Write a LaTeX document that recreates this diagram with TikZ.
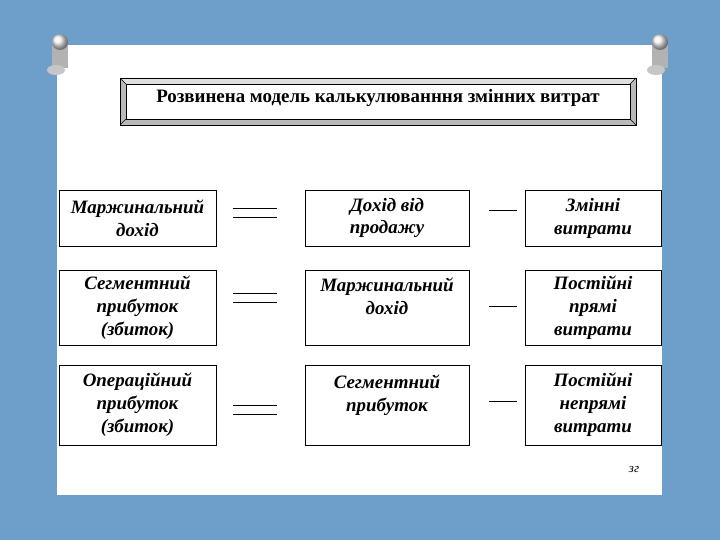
\documentclass[tikz,border=0pt]{standalone}
\usepackage{fontspec}
\setmainfont{Liberation Serif}
\definecolor{bgblue}{HTML}{6E9FCB}
\begin{document}
\begin{tikzpicture}[x=1bp,y=-1bp,
  box/.style={draw,line width=0.9bp,fill=white,align=center,inner sep=0pt,font=\fontsize{19}{23}\selectfont\bfseries\itshape},
  ln/.style={line width=0.7bp}]
\fill[bgblue] (0,0) rectangle (720,540);
\useasboundingbox (0,0) rectangle (720,540);
\fill[white] (57,45) rectangle (662,495);
% pins
\foreach \px in {60,660}{
  \fill[gray!60] (\px-8,45) rectangle (\px+8,68);
  \shade[ball color=gray!10] (\px,42) ellipse (8 and 8);
  \fill[gray!45] (\px-4,70) ellipse (9 and 5);
}
% title
\fill[gray!55] (120,78) rectangle (636,125);
\fill[gray!25] (120,78) -- (636,78) -- (630,84) -- (126,84) -- cycle;
\fill[white] (126,84) rectangle (630,119);
\draw[line width=0.9bp] (120,78) rectangle (636,125);
\draw[line width=0.9bp] (126,84) rectangle (630,119);
\draw[line width=0.5bp] (120,78)--(126,84) (636,78)--(630,84) (120,125)--(126,119) (636,125)--(630,119);
\node[font=\fontsize{19}{20}\selectfont\bfseries] (title) at (378,98) {Розвинена модель калькулюванння змінних витрат};
% boxes
\node[box,minimum width=157bp,minimum height=56bp] (a1) at (137.5,218) {Маржинальний\\дохід};
\node[box,minimum width=164bp,minimum height=56bp] (b1) at (387,218) {Дохід від\\продажу};
\node[box,minimum width=136bp,minimum height=56bp] (c1) at (593,218) {Змінні\\витрати};
\node[box,minimum width=157bp,minimum height=75bp] (a2) at (137.5,307.5) {Сегментний\\прибуток\\(збиток)};
\node[box,minimum width=164bp,minimum height=75bp] (b2) at (387,307.5) {Маржинальний\\дохід\\\mbox{}};
\node[box,minimum width=136bp,minimum height=75bp] (c2) at (593,307.5) {Постійні\\прямі\\витрати};
\node[box,minimum width=157bp,minimum height=80bp] (a3) at (137.5,405) {Операційний\\прибуток\\(збиток)};
\node[box,minimum width=164bp,minimum height=80bp] (b3) at (387,405) {Сегментний\\прибуток\\\mbox{}};
\node[box,minimum width=136bp,minimum height=80bp] (c3) at (593,405) {Постійні\\непрямі\\витрати};
% equals and minus signs
\foreach \y in {208,293,405}{
  \draw[ln] (233,\y) -- (277,\y);
  \draw[ln] (233,\y+9) -- (277,\y+9);
}
\draw[ln] (489,210) -- (517,210);
\draw[ln] (489,306) -- (517,306);
\draw[ln] (489,401) -- (517,401);
\node[font=\fontsize{13}{14}\selectfont\itshape] (zg) at (634,470) {зг};
\end{tikzpicture}
\end{document}
